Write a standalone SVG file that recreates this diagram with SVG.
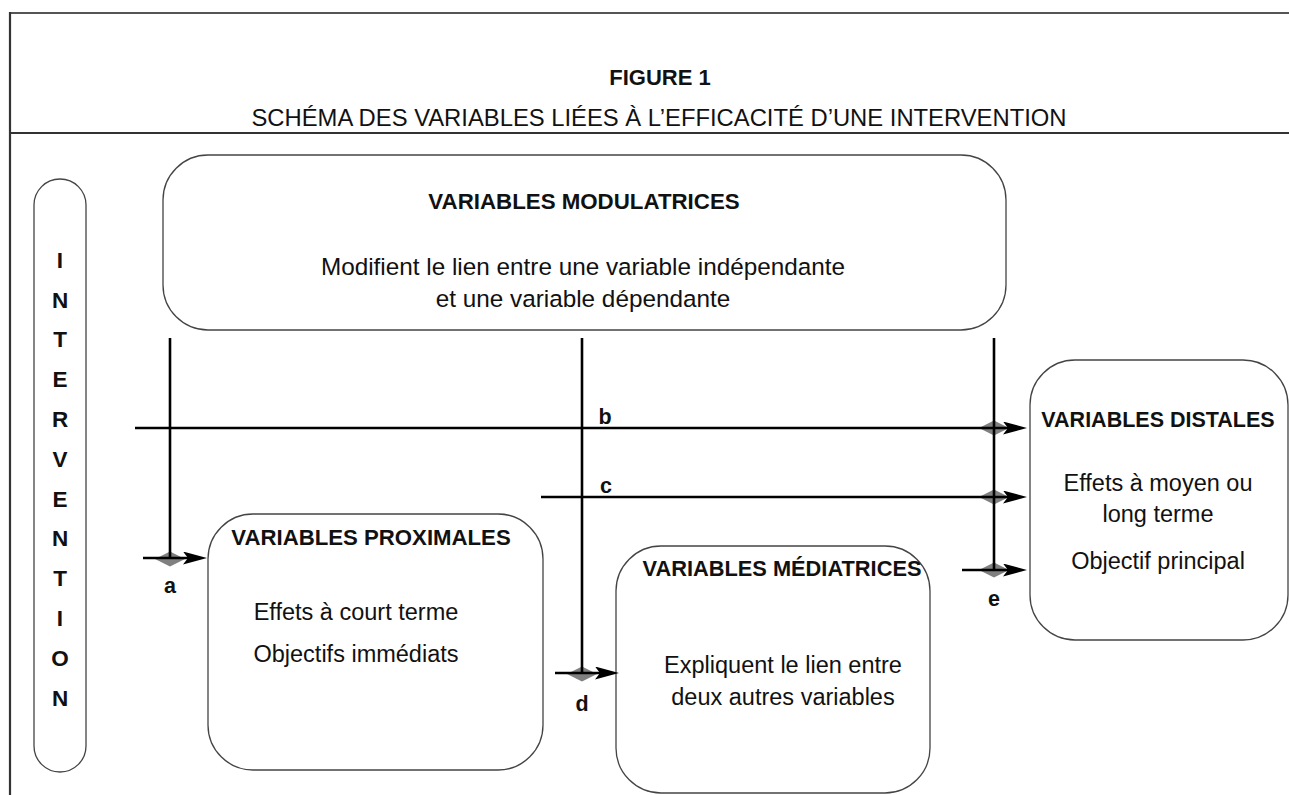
<svg xmlns="http://www.w3.org/2000/svg" width="1289" height="795" viewBox="0 0 1289 795">
<defs>
<style>
.frame{stroke:#333;stroke-width:2.2;fill:none}
.box{fill:#fff;stroke:#444;stroke-width:1.3}
.t{font-family:"Liberation Sans",Arial,sans-serif;fill:#111;text-anchor:middle}
.b{font-weight:bold;font-size:21.5px}
.r{font-size:23.5px}
.conn{stroke:#000;stroke-width:2.6;fill:none}
.dia{fill:#808080}
</style>
<marker id="arr" viewBox="0 0 24 13" refX="14" refY="6.5" markerWidth="24" markerHeight="13" markerUnits="userSpaceOnUse" orient="auto">
<path d="M0,0 L24,6.5 L0,13 L5,6.5 z" fill="#000"/>
</marker>
<polygon id="dm" points="-15,0 0,-7.5 15,0 0,7.5"/>
</defs>
<rect width="1289" height="795" fill="#fff"/>
<g id="frame">
<line class="frame" x1="10" y1="13" x2="1289" y2="13" style="stroke:#555"/>
<line class="frame" x1="10" y1="12" x2="10" y2="795"/>
<line class="frame" x1="10" y1="133" x2="1289" y2="133"/>
<text class="t b" x="660" y="85" style="font-size:22px">FIGURE 1</text>
<text class="t r" x="659" y="126" style="font-size:23.8px">SCHÉMA DES VARIABLES LIÉES À L’EFFICACITÉ D’UNE INTERVENTION</text>
</g>
<g id="intervention">
<rect class="box" x="34" y="179" width="52" height="593" rx="26"/>
<g style="font-size:22.5px">
<text class="t b" x="60" y="268" style="font-size:22.5px">I</text>
<text class="t b" x="60" y="308" style="font-size:22.5px">N</text>
<text class="t b" x="60" y="347" style="font-size:22.5px">T</text>
<text class="t b" x="60" y="387" style="font-size:22.5px">E</text>
<text class="t b" x="60" y="427" style="font-size:22.5px">R</text>
<text class="t b" x="60" y="467" style="font-size:22.5px">V</text>
<text class="t b" x="60" y="507" style="font-size:22.5px">E</text>
<text class="t b" x="60" y="546" style="font-size:22.5px">N</text>
<text class="t b" x="60" y="586" style="font-size:22.5px">T</text>
<text class="t b" x="60" y="626" style="font-size:22.5px">I</text>
<text class="t b" x="60" y="666" style="font-size:22.5px">O</text>
<text class="t b" x="60" y="706" style="font-size:22.5px">N</text>
</g>
</g>
<g id="modulatrices">
<rect class="box" x="163" y="155" width="843" height="175" rx="45"/>
<text class="t b" x="584" y="209" style="font-size:22.3px">VARIABLES MODULATRICES</text>
<text class="t r" x="583" y="275" style="font-size:24.3px">Modifient le lien entre une variable indépendante</text>
<text class="t r" x="583" y="307" style="font-size:24.3px">et une variable dépendante</text>
</g>
<g id="proximales">
<rect class="box" x="208" y="514" width="335" height="256" rx="45"/>
<text class="t b" x="371" y="545" style="font-size:22.2px">VARIABLES PROXIMALES</text>
<text class="t r" x="356" y="620">Effets à court terme</text>
<text class="t r" x="356" y="662">Objectifs immédiats</text>
</g>
<g id="mediatrices">
<rect class="box" x="616" y="546" width="314" height="247" rx="45"/>
<text class="t b" x="782" y="576" style="font-size:21.8px">VARIABLES MÉDIATRICES</text>
<text class="t r" x="783" y="673">Expliquent le lien entre</text>
<text class="t r" x="783" y="705">deux autres variables</text>
</g>
<g id="distales">
<rect class="box" x="1030" y="360" width="258" height="280" rx="45"/>
<text class="t b" x="1158" y="427">VARIABLES DISTALES</text>
<text class="t r" x="1158" y="491">Effets à moyen ou</text>
<text class="t r" x="1158" y="522">long terme</text>
<text class="t r" x="1158" y="569">Objectif principal</text>
</g>
<g id="connectors">
<use href="#dm" class="dia" x="170" y="559"/>
<use href="#dm" class="dia" x="582" y="674"/>
<use href="#dm" class="dia" x="994" y="428"/>
<use href="#dm" class="dia" x="994" y="497"/>
<use href="#dm" class="dia" x="994" y="570"/>
<line class="conn" x1="170" y1="338" x2="170" y2="558"/>
<line class="conn" x1="582" y1="338" x2="582" y2="673"/>
<line class="conn" x1="994" y1="338" x2="994" y2="570"/>
<line class="conn" x1="135" y1="428" x2="1017" y2="428" marker-end="url(#arr)"/>
<line class="conn" x1="541" y1="497" x2="1017" y2="497" marker-end="url(#arr)"/>
<line class="conn" x1="143" y1="558" x2="197" y2="558" marker-end="url(#arr)"/>
<line class="conn" x1="555" y1="673" x2="609" y2="673" marker-end="url(#arr)"/>
<line class="conn" x1="962" y1="570" x2="1017" y2="570" marker-end="url(#arr)"/>
<text class="t b" x="605" y="424">b</text>
<text class="t b" x="606" y="493">c</text>
<text class="t b" x="170" y="593">a</text>
<text class="t b" x="582" y="711">d</text>
<text class="t b" x="994" y="606">e</text>
</g>
</svg>
